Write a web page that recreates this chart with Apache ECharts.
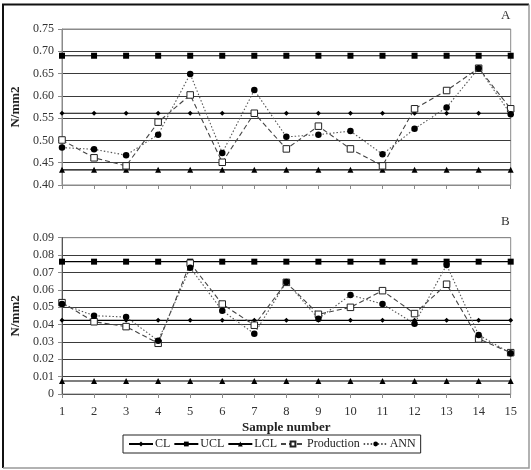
<!DOCTYPE html>
<html><head><meta charset="utf-8">
<script src="https://cdn.jsdelivr.net/npm/echarts@6/dist/echarts.min.js"></script>
<style>html,body{margin:0;padding:0;background:#fff}#c{width:531px;height:470px}</style>
</head><body><div id="c"></div>
<script>
const samples = ['1','2','3','4','5','6','7','8','9','10','11','12','13','14','15'];
const yTicksA = [0.40,0.45,0.50,0.55,0.60,0.65,0.70,0.75];
const yTicksB = [0,0.01,0.02,0.03,0.04,0.05,0.06,0.07,0.08,0.09];
// Chart A
const clA = 0.561, uclA = 0.690, lclA = 0.434;
const productionA = [0.501,0.461,0.443,0.541,0.602,0.451,0.561,0.481,0.532,0.481,0.443,0.571,0.612,0.662,0.571];
const annA = [0.484,0.480,0.467,0.513,0.649,0.472,0.613,0.508,0.513,0.521,0.469,0.526,0.574,0.662,0.559];
// Chart B
const clB = 0.0424, uclB = 0.0762, lclB = 0.0075;
const productionB = [0.0526,0.0416,0.0388,0.0292,0.0753,0.0518,0.0396,0.0643,0.0459,0.0499,0.0595,0.0463,0.0632,0.0317,0.0238];
const annB = [0.0518,0.0451,0.0443,0.0307,0.0727,0.0480,0.0347,0.0645,0.0434,0.0570,0.0518,0.0405,0.0743,0.0340,0.0235];

const FONT = 'Liberation Serif';
const chart = echarts.init(document.getElementById('c'), null, {renderer:'canvas'});
const constant = (v) => samples.map(() => v);

function gridLineColors(n){ const c=[]; for(let i=0;i<n;i++) c.push(i===0||i===n-1?'#8a8a8a':'#3a3a3a'); return c; }

function ctrlSeries(idx, cl, ucl, lcl, prod, ann){
  return [
    {name:'CL', type:'line', xAxisIndex:idx, yAxisIndex:idx, data:constant(cl), symbol:'diamond', symbolSize:5,
     itemStyle:{color:'#000'}, lineStyle:{color:'#000', width:1.2}, animation:false, z:3},
    {name:'UCL', type:'line', xAxisIndex:idx, yAxisIndex:idx, data:constant(ucl), symbol:'rect', symbolSize:6,
     itemStyle:{color:'#000'}, lineStyle:{color:'#000', width:1.2}, animation:false, z:3},
    {name:'LCL', type:'line', xAxisIndex:idx, yAxisIndex:idx, data:constant(lcl), symbol:'triangle', symbolSize:6,
     itemStyle:{color:'#000'}, lineStyle:{color:'#000', width:1.2}, animation:false, z:3},
    {name:'Production', type:'line', xAxisIndex:idx, yAxisIndex:idx, data:prod, symbol:'rect', symbolSize:6.5,
     itemStyle:{color:'#fff', borderColor:'#222', borderWidth:1}, lineStyle:{color:'#444', width:1.1, type:[5,3]}, animation:false, z:4},
    {name:'ANN', type:'line', xAxisIndex:idx, yAxisIndex:idx, data:ann, symbol:'circle', symbolSize:6.5,
     itemStyle:{color:'#000'}, lineStyle:{color:'#555', width:1.1, type:[1.5,2]}, animation:false, z:5}
  ];
}

const yLabelStyle = {fontFamily:FONT, fontSize:12, color:'#333', margin:8};
const nameStyle = {fontFamily:FONT, fontSize:13, fontWeight:'bold', color:'#222'};

chart.setOption({
  animation:false,
  backgroundColor:'#fff',
  grid:[
    {left:62, top:29, right:20.3, bottom:285, show:true, borderColor:'#8a8a8a', borderWidth:1},
    {left:62, top:237.7, right:20.3, bottom:76, show:true, borderColor:'#8a8a8a', borderWidth:1}
  ],
  xAxis:[
    {type:'category', gridIndex:0, data:samples, boundaryGap:false,
     axisLine:{lineStyle:{color:'#8a8a8a'}}, axisTick:{show:true, length:4, lineStyle:{color:'#8a8a8a'}},
     axisLabel:{show:false}, splitLine:{show:false}},
    {type:'category', gridIndex:1, data:samples, boundaryGap:false,
     name:'Sample number', nameLocation:'middle', nameGap:27, nameTextStyle:nameStyle,
     axisLine:{lineStyle:{color:'#555'}}, axisTick:{show:true, length:4, lineStyle:{color:'#8a8a8a'}},
     axisLabel:{fontFamily:FONT, fontSize:12.5, color:'#333', margin:11}, splitLine:{show:false}}
  ],
  yAxis:[
    {type:'value', gridIndex:0, min:yTicksA[0], max:yTicksA[yTicksA.length-1], interval:0.05,
     name:'N/mm2', nameLocation:'middle', nameGap:26, nameRotate:90, nameTextStyle:nameStyle,
     axisLine:{show:true, lineStyle:{color:'#8a8a8a'}}, axisTick:{show:true, length:4, lineStyle:{color:'#8a8a8a'}},
     axisLabel:Object.assign({formatter:(v)=>v.toFixed(2)}, yLabelStyle),
     splitLine:{show:true, lineStyle:{color:gridLineColors(yTicksA.length), width:1}}},
    {type:'value', gridIndex:1, min:yTicksB[0], max:yTicksB[yTicksB.length-1], interval:0.01,
     name:'N/mm2', nameLocation:'middle', nameGap:26, nameRotate:90, nameTextStyle:nameStyle,
     axisLine:{show:true, lineStyle:{color:'#555'}}, axisTick:{show:true, length:4, lineStyle:{color:'#8a8a8a'}},
     axisLabel:Object.assign({formatter:(v)=>v===0?'0':v.toFixed(2)}, yLabelStyle),
     splitLine:{show:true, lineStyle:{color:gridLineColors(yTicksB.length), width:1}}}
  ],
  legend:{
    data:['CL','UCL','LCL','Production','ANN'],
    left:123, top:435, padding:[3,5,3,5], itemGap:3, itemWidth:24, itemHeight:6,
    borderColor:'#222', borderWidth:1,
    textStyle:{fontFamily:FONT, fontSize:12, color:'#222', padding:[0,0,0,-3]}
  },
  graphic:[
    {type:'text', left:501, top:9, style:{text:'A', font:'13px "Liberation Serif"', fill:'#333'}},
    {type:'text', left:501, top:215, style:{text:'B', font:'13px "Liberation Serif"', fill:'#333'}},
    {type:'polyline', shape:{points:[[3,468],[3,4.5],[529,4.5]]}, style:{stroke:'#111', lineWidth:2, fill:null}, z:100},
    {type:'polyline', shape:{points:[[529,4.5],[529,468],[3,468]]}, style:{stroke:'#999', lineWidth:1.5, fill:null}, z:100}
  ],
  series:[].concat(ctrlSeries(0, clA, uclA, lclA, productionA, annA), ctrlSeries(1, clB, uclB, lclB, productionB, annB))
});
</script></body></html>
